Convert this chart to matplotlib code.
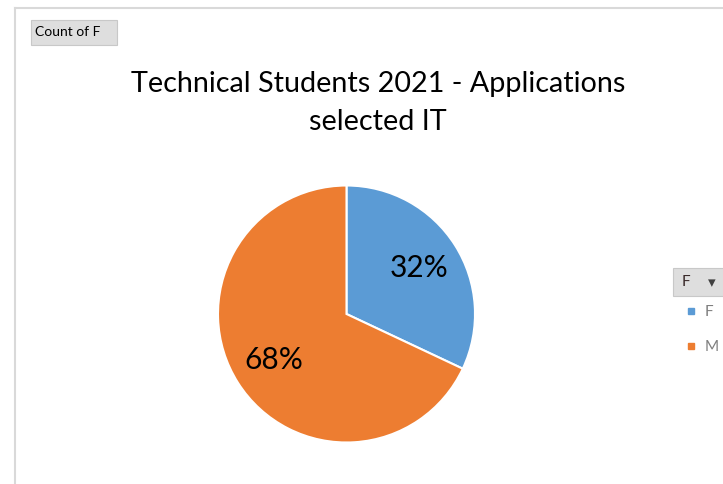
import matplotlib
matplotlib.use("Agg")
import matplotlib.pyplot as plt
from matplotlib.lines import Line2D
from matplotlib.patches import Rectangle

plt.rcParams['font.family'] = ['Lato', 'DejaVu Sans']

W, H = 723, 484

categories = ['F', 'M']
counts = [32, 68]
colors = ['#5B9BD5', '#ED7D31']
title = 'Technical Students 2021 - Applications\nselected IT'


def px(x, y):
    # pixel coords (from top-left) -> figure fraction
    return x / W, 1 - y / H


fig = plt.figure(figsize=(W / 100, H / 100), dpi=100)

# chart area border
fig.add_artist(Line2D([14.5 / W, 14.5 / W], [0, 1 - 7.5 / H], transform=fig.transFigure,
                      color='#d9d9d9', lw=1.5))
fig.add_artist(Line2D([14.5 / W, 1], [1 - 7.5 / H, 1 - 7.5 / H], transform=fig.transFigure,
                      color='#d9d9d9', lw=1.5))

# pivot field button
bx, by = px(31, 45)
fig.add_artist(Rectangle((bx, by), 86 / W, 25 / H, transform=fig.transFigure,
                         facecolor='#dedede', edgecolor='#c8c8c8', lw=0.8))
fig.text(*px(35, 32.5), 'Count of F', fontsize=10, color='#000000', va='center', ha='left')

fig.text(*px(378, 103), title, fontsize=20.7, ha='center', va='center',
         linespacing=1.6, color='#000000')

# pie
cx, cy, r = 346.5, 314, 128.5
x0, y0 = px(cx - r, cy + r)
ax = fig.add_axes([x0, y0, 2 * r / W, 2 * r / H])
wedges, _, autotexts = ax.pie(counts, colors=colors, startangle=90, counterclock=False,
                              autopct='%1.0f%%', pctdistance=0.67,
                              wedgeprops=dict(edgecolor='white', linewidth=1.5),
                              textprops=dict(fontsize=21.5, color='#000000'))
ax.set_xlim(-1, 1)
ax.set_ylim(-1, 1)
ax.set_aspect('equal')
ax.axis('off')

# legend field button
lx, ly = px(673, 296)
fig.add_artist(Rectangle((lx, ly), 60 / W, 28 / H, transform=fig.transFigure,
                         facecolor='#dedede', edgecolor='#c8c8c8', lw=0.8))
fig.text(*px(682, 282), 'F', fontsize=11, color='#3a2a2a', va='center', ha='left')
fig.text(*px(712, 283), '\u25BE', fontsize=11, color='#404040', va='center', ha='center')

handles = [Line2D([], [], marker='s', linestyle='none', markersize=5, color=c) for c in colors]
leg = fig.legend(handles, categories, loc='upper left', bbox_to_anchor=px(685, 305),
                 frameon=False, fontsize=11, labelspacing=1.4, handlelength=0.8,
                 handletextpad=0.5, borderaxespad=0, borderpad=0)
for t in leg.get_texts():
    t.set_color('#7f7f7f')

fig.savefig('out.png', dpi=100)
